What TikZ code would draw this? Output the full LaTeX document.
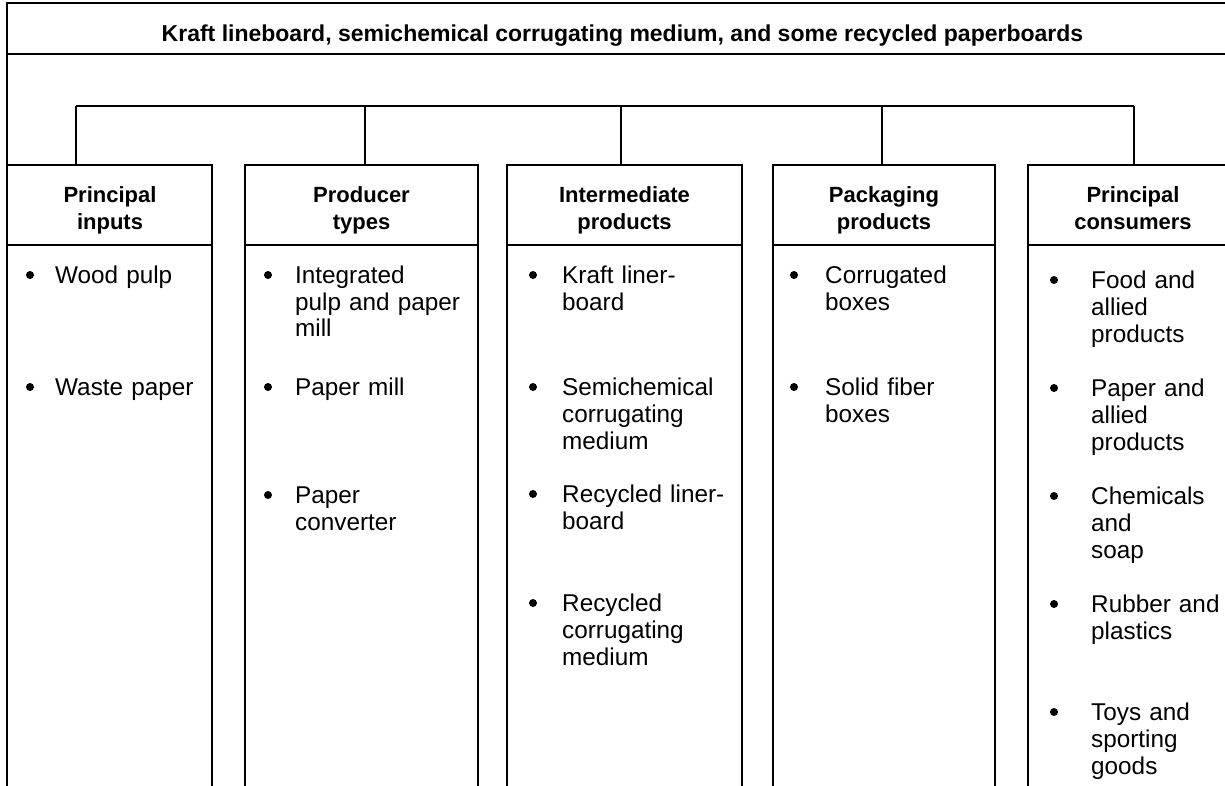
\documentclass[tikz,border=0pt]{standalone}
\usepackage{fontspec}
\setmainfont{Liberation Sans}
\newcommand\bitem[5]{%
  \node[bul] (#1b) at (#2,#4-8) {};
  \node[itm] (#1) at (#3,#4) {#5};
}
\begin{document}
\begin{tikzpicture}[x=1pt,y=-1pt,
  frame/.style={line width=2.4pt},
  hbox/.style={draw, frame, anchor=north west, inner sep=0pt, outer sep=0pt, minimum height=80pt},
  hdr/.style={font=\fontsize{22}{27}\selectfont\bfseries, align=center, text width=220pt, anchor=base, inner sep=0pt},
  itm/.style={font=\fontsize{24.3}{27}\selectfont, align=left, text width=220pt, anchor=base west, inner sep=0pt},
  bul/.style={circle, fill=black, inner sep=0pt, minimum size=8pt},
]
\useasboundingbox (0,0) rectangle (1225,786);

% title
\node[draw, frame, anchor=north west, inner sep=0pt, outer sep=0pt, minimum width=1231pt,
      text height=39pt, text depth=12pt, font=\fontsize{23}{27}\selectfont\bfseries]
  (title) at (7,3) {Kraft lineboard, semichemical corrugating medium, and some recycled paperboards};

% header boxes
\node[hbox, minimum width=205pt] (h1) at (7,165) {};
\node[hbox, minimum width=233pt] (h2) at (245,165) {};
\node[hbox, minimum width=235pt] (h3) at (507,165) {};
\node[hbox, minimum width=222pt] (h4) at (773,165) {};
\node[hbox, minimum width=210pt] (h5) at (1028,165) {};

% header texts
\node[hdr] (t1) at (110,203) {Principal\\inputs};
\node[hdr] (t2) at (361.5,203) {Producer\\types};
\node[hdr] (t3) at (624.5,203) {Intermediate\\products};
\node[hdr] (t4) at (884,203) {Packaging\\products};
\node[hdr] (t5) at (1133,203) {Principal\\consumers};

% column sides
\foreach \h in {h1,h2,h3,h4,h5}{
  \draw[frame] (\h.south west) -- ++(0,545);
  \draw[frame] (\h.south east) -- ++(0,545);
}

% outer frame left side
\draw[frame] (title.south west) -- (h1.north west);

% bracket
\coordinate (d1) at (76,106);
\coordinate (d2) at (365,106);
\coordinate (d3) at (621,106);
\coordinate (d4) at (882,106);
\coordinate (d5) at (1134,106);
\draw[frame] (d1) -- (d5);
\draw[frame] (d1) -- (d1 |- h1.north);
\draw[frame] (d2) -- (d2 |- h2.north);
\draw[frame] (d3) -- (d3 |- h3.north);
\draw[frame] (d4) -- (d4 |- h4.north);
\draw[frame] (d5) -- (d5 |- h5.north);

% items
\bitem{a1}{30}{55}{283}{Wood pulp}
\bitem{a2}{30}{55}{395}{Waste paper}

\bitem{b1}{268}{295}{283}{Integrated\\pulp and paper\\mill}
\bitem{b2}{268}{295}{395}{Paper mill}
\bitem{b3}{268}{295}{503}{Paper\\converter}

\bitem{c1}{533}{562}{283}{Kraft liner-\\board}
\bitem{c2}{533}{562}{395}{Semichemical\\corrugating\\medium}
\bitem{c3}{533}{562}{502}{Recycled liner-\\board}
\bitem{c4}{533}{562}{611}{Recycled\\corrugating\\medium}

\bitem{e1}{794}{825}{283}{Corrugated\\boxes}
\bitem{e2}{794}{825}{395}{Solid fiber\\boxes}

\bitem{f1}{1054}{1091}{288}{Food and\\allied\\products}
\bitem{f2}{1054}{1091}{396}{Paper and\\allied\\products}
\bitem{f3}{1054}{1091}{504}{Chemicals\\and\\soap}
\bitem{f4}{1054}{1091}{612}{Rubber and\\plastics}
\bitem{f5}{1054}{1091}{720}{Toys and\\sporting\\goods}
\end{tikzpicture}
\end{document}
